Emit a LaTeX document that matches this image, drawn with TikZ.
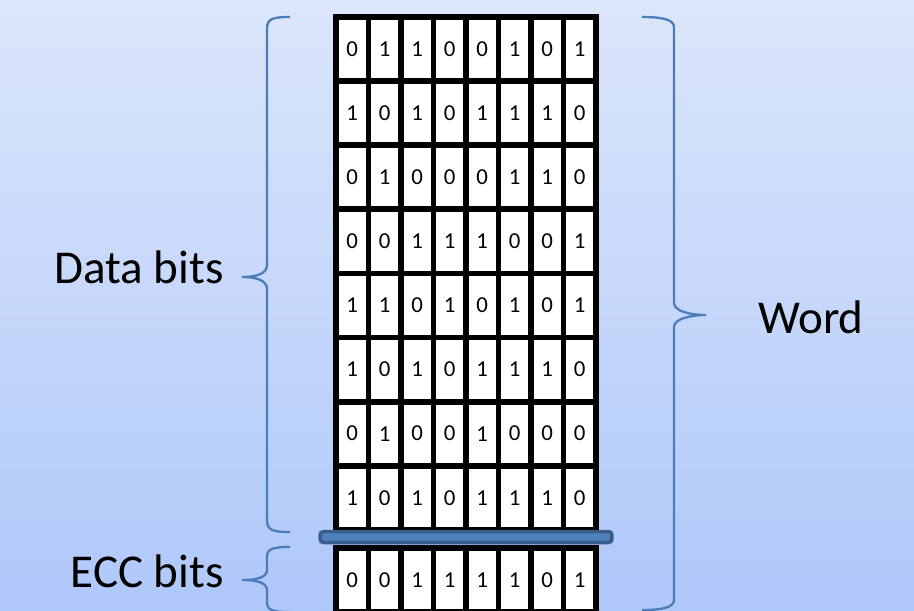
\documentclass[tikz,border=0pt]{standalone}
\usepackage{fontspec}
\setmainfont{Carlito}
\usepackage{tikz}
\usetikzlibrary{positioning,calc}
\definecolor{bgTop}{HTML}{DCE6FB}
\definecolor{bgBottom}{HTML}{AFC8FA}
\definecolor{braceBlue}{HTML}{4A7EBB}
\definecolor{barFill}{HTML}{4F81BD}
\definecolor{barEdge}{HTML}{385D8A}

\begin{document}
\begin{tikzpicture}[x=0.02cm,y=-0.02cm,
  bit/.style={draw,line width=3.3pt,fill=white,minimum width=0.65cm,minimum height=1.282cm,
    inner sep=0pt,font=\fontsize{13}{15}\selectfont},
  bar/.style={draw=barEdge,fill=barFill,line width=2pt,rounded corners=2pt,
    minimum width=5.84cm,minimum height=0.22cm,inner sep=0pt},
  curly/.style={braceBlue,line width=1.3pt},
  lbl/.style={inner sep=0pt,font=\fontsize{26.8}{30}\selectfont}]
\fill[top color=bgTop,bottom color=bgBottom] (0,0) rectangle (914,610);
\useasboundingbox (0,0) rectangle (914,610);

% data words, one row per byte
\foreach \bits [count=\r] in {{0,1,1,0,0,1,0,1},{1,0,1,0,1,1,1,0},{0,1,0,0,0,1,1,0},
    {0,0,1,1,1,0,0,1},{1,1,0,1,0,1,0,1},{1,0,1,0,1,1,1,0},{0,1,0,0,1,0,0,0},{1,0,1,0,1,1,1,0}}
  \foreach \b [count=\c] in \bits
    \node[bit] (d\r-\c) at ({336+32.5*(\c-0.5)},{17+64.1*(\r-0.5)}) {\b};

% check bits
\foreach \b [count=\c] in {0,0,1,1,1,1,0,1}
  \node[bit] (e\c) at ({336+32.5*(\c-0.5)},580) {\b};

\node[bar] (sep) at (466,537) {};

% braces
\draw[curly] (290,17) .. controls (272,17) and (267,19) .. (267,29) -- (267,265)
  .. controls (267,273) and (258,277) .. (242,277)
  .. controls (258,277) and (267,281) .. (267,289) -- (267,520)
  .. controls (267,530) and (272,532) .. (290,532);
\draw[curly] (290,547) .. controls (272,547) and (267,549) .. (267,557) -- (267,570)
  .. controls (267,577) and (258,580) .. (242,580)
  .. controls (258,580) and (267,583) .. (267,590) -- (267,602)
  .. controls (267,610) and (272,612) .. (290,612);
\draw[curly] (642,17) .. controls (660,17) and (674,19) .. (674,27) -- (674,303)
  .. controls (674,311) and (690,315) .. (706,315)
  .. controls (690,315) and (674,319) .. (674,327) -- (674,600)
  .. controls (674,608) and (660,610) .. (642,610);

\node[lbl,anchor=east] (databits) at (224,267) {Data bits};
\node[lbl,anchor=east] (eccbits) at (224,571) {ECC bits};
\node[lbl,anchor=west] (word) at (758,317) {Word};
\end{tikzpicture}
\end{document}
